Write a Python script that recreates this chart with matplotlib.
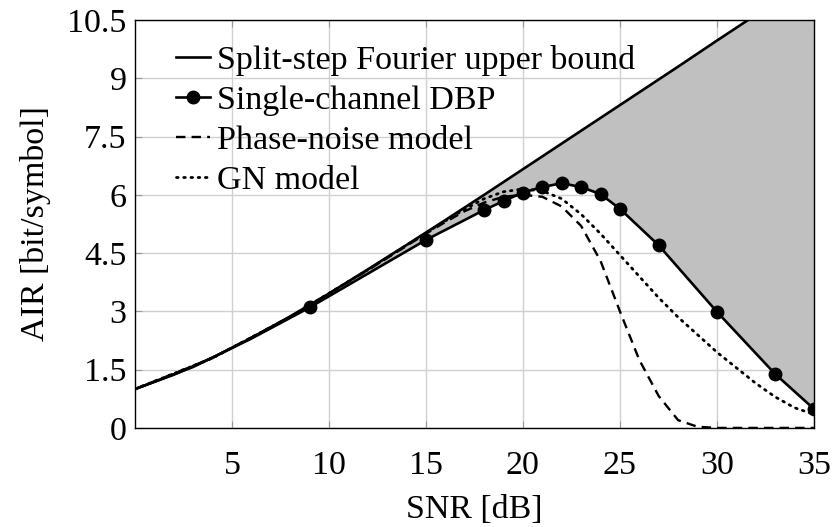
import matplotlib
matplotlib.use("Agg")
import matplotlib.pyplot as plt
import numpy as np

plt.rcParams['font.family'] = ['Liberation Serif', 'DejaVu Serif']
plt.rcParams['mathtext.fontset'] = 'stix'

# upper bound
ub_snr = [0, 2, 4, 6, 8, 10, 12, 14, 16, 18, 20, 22, 24, 26, 28, 30, 32, 35]
ub_air = [1.0, 1.37, 1.81, 2.32, 2.87, 3.46, 4.08, 4.71, 5.35, 6.0, 6.66,
          7.32, 7.98, 8.64, 9.30, 9.97, 10.63, 11.62]

# single-channel DBP (markers from SNR=9 on)
dbp_snr = [0, 3, 6, 9, 15, 18, 19, 20, 21, 22, 23, 24, 25, 27, 30, 33, 35]
dbp_air = [1.0, 1.57, 2.3, 3.1, 4.84, 5.61, 5.84, 6.06, 6.2, 6.3, 6.2,
           6.02, 5.64, 4.7, 2.99, 1.39, 0.49]

# phase-noise model
pn_snr = [0, 4, 8, 12, 15, 16, 17, 18, 19, 20, 21, 22, 23, 24, 25, 26, 27,
          28, 29, 30, 35]
pn_air = [1.0, 1.8, 2.86, 4.06, 5.0, 5.3, 5.58, 5.8, 5.95, 6.0, 5.95, 5.7,
          5.2, 4.3, 3.0, 1.75, 0.82, 0.2, 0.03, 0.0, 0.0]

# GN model
gn_snr = [0, 4, 8, 12, 15, 16, 17, 18, 19, 20, 21, 22, 23, 24, 25, 26, 27,
          28, 29, 30, 31, 32, 33, 34, 35]
gn_air = [1.0, 1.8, 2.86, 4.07, 5.02, 5.33, 5.63, 5.9, 6.08, 6.15, 6.1,
          5.9, 5.5, 5.0, 4.45, 3.9, 3.35, 2.85, 2.4, 1.95, 1.55, 1.15,
          0.8, 0.52, 0.35]

xticks = [5, 10, 15, 20, 25, 30, 35]
yticks = [0, 1.5, 3, 4.5, 6, 7.5, 9, 10.5]

FS = 24.5

fig = plt.figure(figsize=(8.35, 5.27), dpi=100)
ax = fig.add_axes([0.1617, 0.188, 0.813, 0.774])

# shaded gap between upper bound and DBP
grid_x = np.array(ub_snr, dtype=float)
ax.fill_between(dbp_snr, np.interp(dbp_snr, ub_snr, ub_air), dbp_air,
                color='#c0c0c0', lw=0, zorder=1)
ax.fill_between(ub_snr, ub_air, np.interp(grid_x, dbp_snr, dbp_air),
                color='#c0c0c0', lw=0, zorder=1)

ax.plot(ub_snr, ub_air, color='black', lw=1.9, zorder=4,
        label='Split-step Fourier upper bound')
ax.plot(dbp_snr, dbp_air, color='black', lw=1.9, marker='o', ms=9,
        markevery=list(range(3, len(dbp_snr))), zorder=5,
        label='Single-channel DBP')
ax.plot(pn_snr, pn_air, color='black', lw=1.7, ls=(0, (4, 2.6)), zorder=3,
        label='Phase-noise model')
ax.plot(gn_snr, gn_air, color='black', lw=2.0, ls=(0, (0.6, 2.0)),
        dash_capstyle='round', zorder=3, label='GN model')

ax.set_xlim(0, 35)
ax.set_ylim(0, 10.5)
ax.set_xticks(xticks)
ax.set_yticks(yticks)
ax.set_yticklabels(['0', '1.5', '3', '4.5', '6', '7.5', '9', '10.5'])
ax.grid(True, color='#d0d0d0', lw=1.0, zorder=0)
ax.set_axisbelow(True)
ax.tick_params(axis='both', direction='in', length=5, color='#999999',
               top=True, right=True, labelsize=FS)
ax.tick_params(axis='x', pad=16)
ax.tick_params(axis='y', pad=6)
for s in ax.spines.values():
    s.set_linewidth(1.0)

ax.set_xlabel('SNR [dB]', fontsize=FS, labelpad=10)
ax.set_ylabel('AIR [bit/symbol]', fontsize=FS, labelpad=12)

ax.legend(loc='upper left', bbox_to_anchor=(0.04, 0.972), frameon=False,
          fontsize=FS, handlelength=1.0, handletextpad=0.2,
          labelspacing=0.27, borderaxespad=0)

fig.savefig('out.png', dpi=100)
